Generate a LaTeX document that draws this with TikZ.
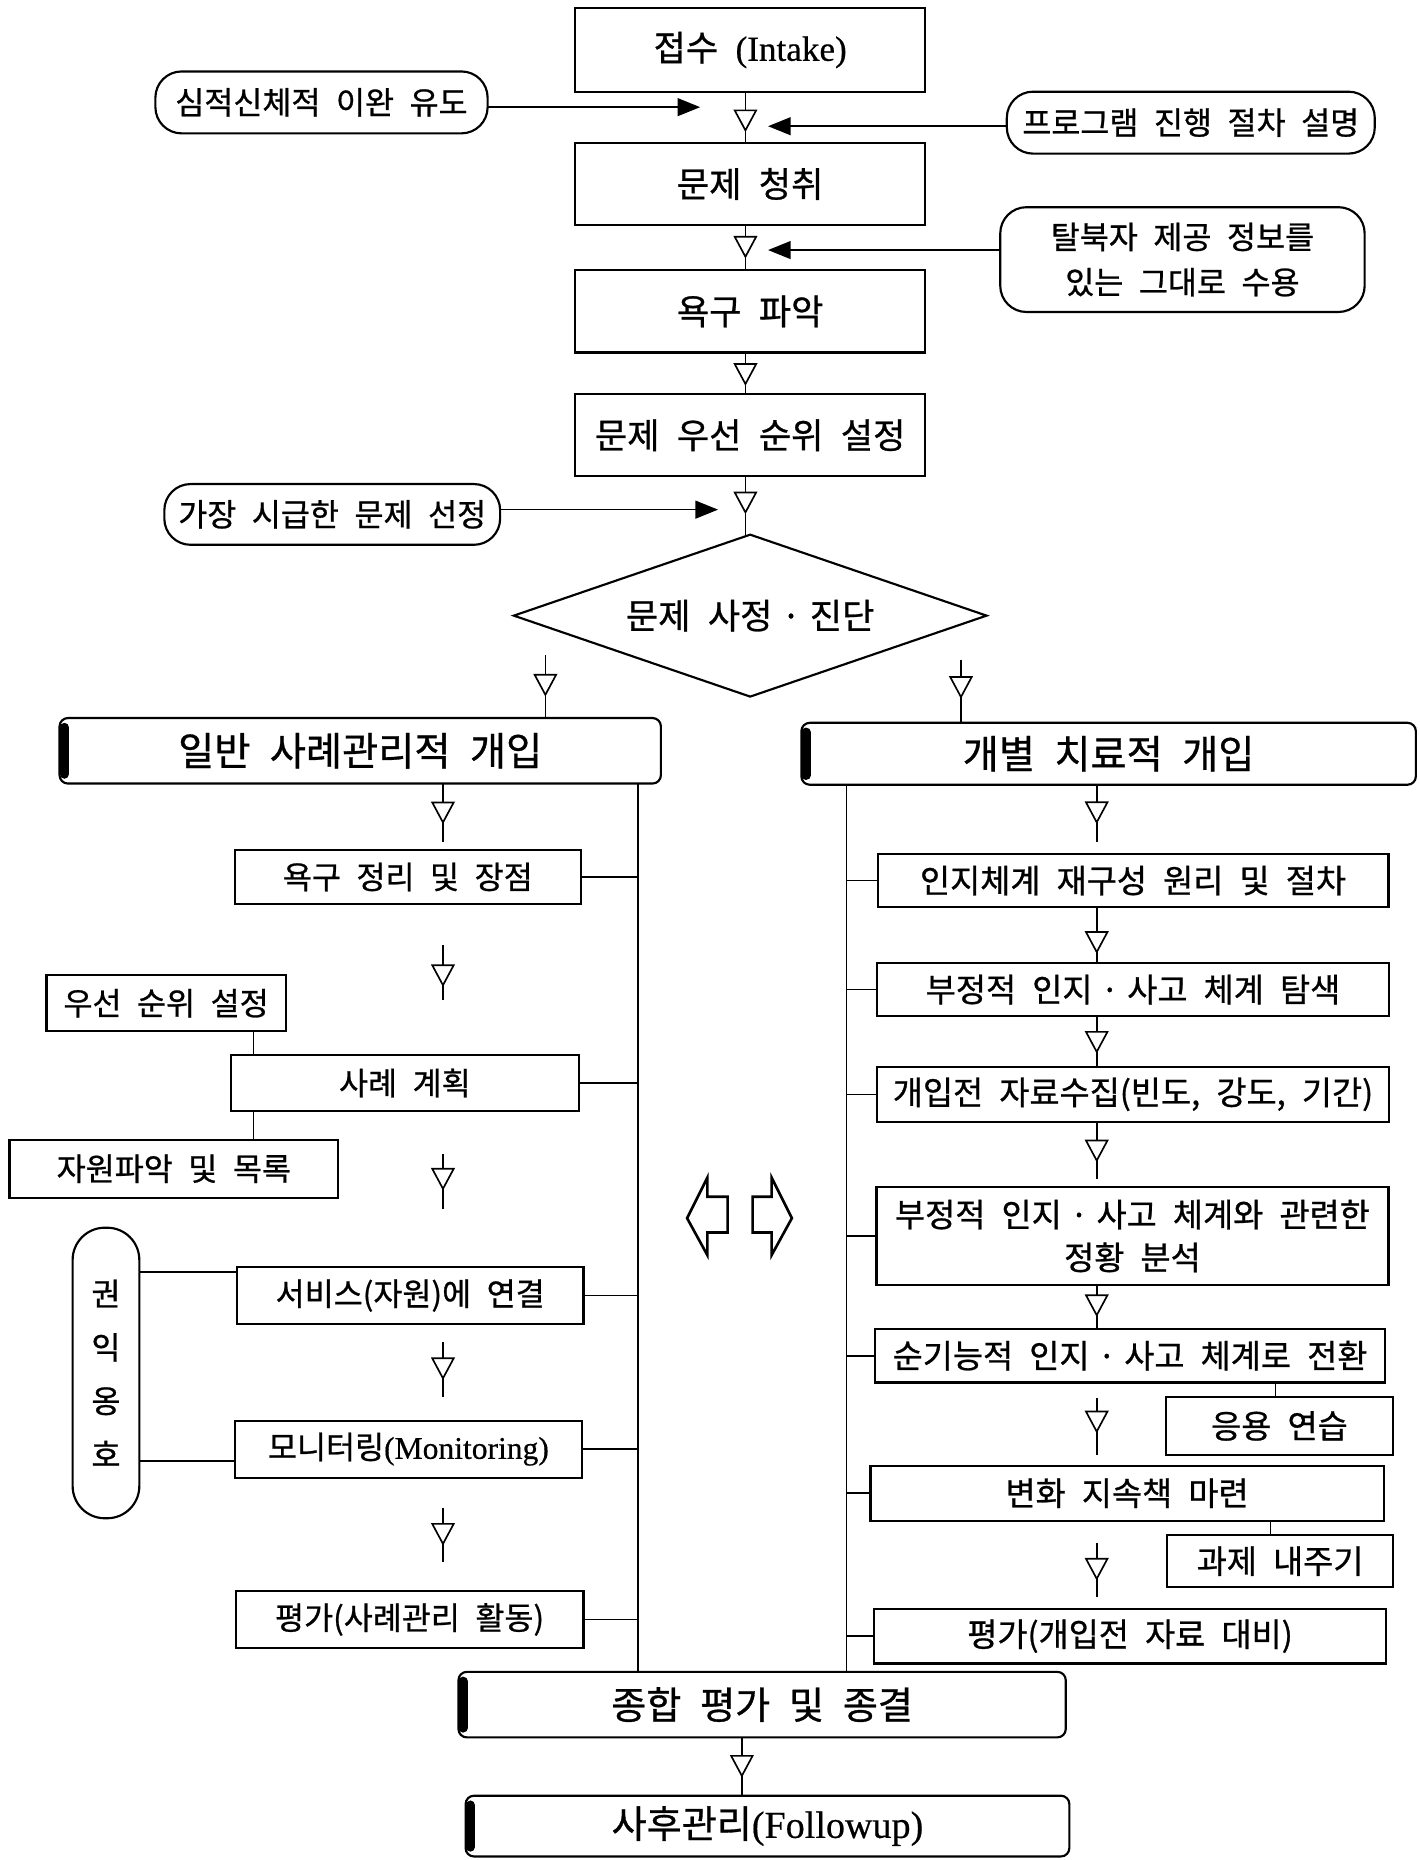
\documentclass[tikz,border=0pt]{standalone}
\usepackage{fontspec}
\setmainfont{Noto Sans CJK KR}[WordSpace=2.2, FakeBold=0.8]
\newfontfamily\latinfont{Liberation Serif}[FakeBold=0.5]
\newcommand{\midot}{\hspace{0.25em}·\hspace{0.25em}}
\usetikzlibrary{positioning, shapes.geometric, arrows.meta, decorations.markings}

\tikzset{
    stepbox/.style={draw, line width=1.8pt, inner sep=0pt, outer sep=0pt, align=center,
        font=\fontsize{26.5}{36}\selectfont},
    rstep/.style={stepbox, font=\fontsize{27.5}{36}\selectfont},
    mainbox/.style={stepbox, minimum width=294pt, minimum height=69pt,
        font=\fontsize{29.5}{32}\selectfont},
    headbox/.style={stepbox, rounded corners=7pt, font=\fontsize{33}{36}\selectfont},
    pill/.style={stepbox, rounded corners=22pt, font=\fontsize{26.5}{38}\selectfont},
    link/.style={line width=1.4pt},
    flow/.style={link, postaction={decorate}, decoration={markings,
        mark=at position #1 with {\arrow{Triangle[length=19pt, width=20pt, fill=white, line width=1.4pt]}}}},
    flow/.default=0.7,
    push/.style={link, -{Triangle[length=19pt, width=15pt]}},
}

\begin{document}
\begin{tikzpicture}[x=1pt, y=-1pt]
    \useasboundingbox (0,0) rectangle (1192,1562);

    % main column
    \node[mainbox, minimum height=70pt] (intake) at (630,42) {접수 {\latinfont(Intake)}};
    \node[mainbox, below=43pt of intake] (hear) {문제 청취};
    \node[mainbox, below=38pt of hear]   (need) {욕구 파악};
    \node[mainbox, below=35pt of need]   (prio) {문제 우선 순위 설정};
    \node[stepbox, diamond, aspect=2.9, minimum width=397pt, minimum height=136pt,
          font=\fontsize{29.5}{32}\selectfont, below=49pt of prio] (diag) {문제 사정\midot 진단};

    % side notes
    \node[pill, minimum width=279pt, minimum height=52pt] (relax)   at (270,86)   {심적신체적 이완 유도};
    \node[pill, minimum width=309pt, minimum height=52pt] (explain) at (1000,103) {프로그램 진행 절차 설명};
    \node[pill, minimum width=306pt, minimum height=88pt] (accept)  at (993,218)  {탈북자 제공 정보를\\있는 그대로 수용};
    \node[pill, minimum width=282pt, minimum height=51pt] (urgent)  at (279,432)  {가장 시급한 문제 선정};

    \coordinate (mx) at (626,0);
    \coordinate (t1) at (588,90);
    \coordinate (t2) at (645,106);
    \coordinate (t3) at (645,210);
    \coordinate (t4) at (603,428);

    \draw[flow=0.79] (intake.south -| mx) -- (hear.north -| mx);
    \draw[flow=0.74] (hear.south -| mx) -- (need.north -| mx);
    \draw[flow=0.8]  (need.south -| mx) -- (prio.north -| mx);
    \draw[flow=0.65] (prio.south -| mx) -- (diag.north -| mx);

    \draw[push] (relax.east |- t1) -- (t1);
    \draw[push] (explain.west |- t2) -- (t2);
    \draw[push] (accept.west |- t3) -- (t3);
    \draw[push] (urgent.east |- t4) -- (t4);

    % two branches
    \node[headbox, minimum width=505pt, minimum height=55pt] (gen)   at (302.5,630.5) {일반 사례관리적 개입};
    \node[headbox, minimum width=516pt, minimum height=52pt] (indiv) at (931,633)     {개별 치료적 개입};
    \coordinate (dl) at (458,550);
    \coordinate (dr) at (807,554);
    \draw[flow=0.66] (dl) -- (gen.north -| dl);
    \draw[flow=0.62] (dr) -- (indiv.north -| dr);

    % left column
    \node[stepbox, minimum width=291pt, minimum height=45pt] (lneed) at (342.5,736.5) {욕구 정리 및 장점};
    \node[stepbox, minimum width=201pt, minimum height=47pt] (lprio) at (139.5,842.5) {우선 순위 설정};
    \node[stepbox, minimum width=292pt, minimum height=47pt] (lplan) at (340,909.5)   {사례 계획};
    \node[stepbox, minimum width=276pt, minimum height=49pt] (lres)  at (146,981.5)   {자원파악 및 목록};
    \node[stepbox, minimum width=291pt, minimum height=48pt] (llink) at (344.5,1088)  {서비스(자원)에 연결};
    \node[stepbox, minimum width=292pt, minimum height=48pt] (lmon)  at (343,1217)    {모니터링{\latinfont(Monitoring)}};
    \node[stepbox, minimum width=292pt, minimum height=48pt] (leval) at (344,1360)    {평가(사례관리 활동)};
    \node[stepbox, rounded corners=27pt, minimum width=56pt, minimum height=244pt,
          font=\fontsize{26.5}{45}\selectfont] (adv) at (89,1153) {권\\익\\옹\\호};

    \coordinate (lrail) at (536,0);
    \coordinate (lx) at (372,0);
    \coordinate (sx) at (213,0);
    \coordinate (ya) at (0,1068);
    \coordinate (yb) at (0,1227);

    \draw[flow=0.61, shorten >=7pt] (gen.south -| lx) -- (lneed.north -| lx);
    \draw[flow=0.55, shorten <=35pt, shorten >=46pt] (lneed.south -| lx) -- (lplan.north -| lx);
    \draw[flow=0.51, shorten <=36pt, shorten >=49pt] (lplan.south -| lx) -- (llink.north -| lx);
    \draw[flow=0.58, shorten <=15pt, shorten >=20pt] (llink.south -| lx) -- (lmon.north -| lx);
    \draw[flow=0.6,  shorten <=25pt, shorten >=24pt] (lmon.south -| lx) -- (leval.north -| lx);

    \draw[link] (lprio.south -| sx) -- (lplan.north -| sx);
    \draw[link] (lplan.south -| sx) -- (lres.north -| sx);
    \draw[link] (adv.east |- ya) -- (llink.west |- ya);
    \draw[link] (adv.east |- yb) -- (lmon.west |- yb);

    % right column
    \node[rstep, minimum width=429pt, minimum height=45pt] (rprin) at (951.5,739.5) {인지체계 재구성 원리 및 절차};
    \node[rstep, minimum width=430pt, minimum height=44pt] (rneg)  at (951.5,831)   {부정적 인지\midot 사고 체계 탐색};
    \node[rstep, minimum width=430pt, minimum height=46pt] (rdata) at (951.5,919)   {개입전 자료수집(빈도, 강도, 기간)};
    \node[rstep, minimum width=430pt, minimum height=82pt] (rsit)  at (951,1038)    {부정적 인지\midot 사고 체계와 관련한\\정황 분석};
    \node[rstep, minimum width=428pt, minimum height=45pt] (rconv) at (949,1138.5)  {순기능적 인지\midot 사고 체계로 전환};
    \node[rstep, minimum width=191pt, minimum height=49pt] (rprac) at (1074.5,1197.5) {응용 연습};
    \node[rstep, minimum width=431pt, minimum height=46pt] (rkeep) at (946.5,1254)  {변화 지속책 마련};
    \node[rstep, minimum width=190pt, minimum height=44pt] (rtask) at (1075,1311)   {과제 내주기};
    \node[rstep, minimum width=430pt, minimum height=46pt] (reval) at (949,1374)    {평가(개입전 자료 대비)};

    \coordinate (rrail) at (711,0);
    \coordinate (rx) at (921,0);
    \coordinate (px) at (1071,0);
    \coordinate (qx) at (1067,0);

    \draw[flow=0.57, shorten >=10pt] (indiv.south -| rx) -- (rprin.north -| rx);
    \draw[flow=0.83] (rprin.south -| rx) -- (rneg.north -| rx);
    \draw[flow=0.74] (rneg.south -| rx) -- (rdata.north -| rx);
    \draw[flow=0.62, shorten >=7pt] (rdata.south -| rx) -- (rsit.north -| rx);
    \draw[flow=0.73] (rsit.south -| rx) -- (rconv.north -| rx);
    \draw[flow=0.61, shorten <=13pt, shorten >=9pt] (rconv.south -| rx) -- (rkeep.north -| rx);
    \draw[flow=0.68, shorten <=19pt, shorten >=10pt] (rkeep.south -| rx) -- (reval.north -| rx);

    \draw[link] (rconv.south -| px) -- (rprac.north -| px);
    \draw[link] (rkeep.south -| qx) -- (rtask.north -| qx);

    % both sides meet
    \node[headbox, minimum width=510pt, minimum height=55pt, font=\fontsize{32}{36}\selectfont] (final)  at (640,1431.5) {종합 평가 및 종결};
    \node[headbox, minimum width=507pt, minimum height=51pt, font=\fontsize{32}{36}\selectfont] (follow) at (644.5,1533.5) {사후관리{\latinfont(Followup)}};
    \coordinate (fx) at (623,0);
    \draw[flow=0.69] (final.south -| fx) -- (follow.north -| fx);

    \draw[link] (gen.south -| lrail) -- (final.north -| lrail);
    \foreach \n in {lneed, lplan, llink, lmon, leval}
        \draw[link] (\n.east) -- (\n.east -| lrail);
    \draw[link] (indiv.south -| rrail) -- (final.north -| rrail);
    \foreach \n in {rprin, rneg, rdata, rsit, rconv, rkeep, reval}
        \draw[link] (\n.west) -- (\n.west -| rrail);

    % heavy left edges
    \foreach \n in {gen, indiv, final, follow}
        \draw[line width=8pt, line cap=round] ([xshift=4pt, yshift=-8pt]\n.north west) -- ([xshift=4pt, yshift=8pt]\n.south west);

    % hollow arrows in the middle
    \draw[line width=2.2pt] (611,1005) -- (594,1005) -- (594,989) -- (577,1023) -- (594,1054) -- (594,1035) -- (611,1035) -- cycle;
    \draw[line width=2.2pt] (632,1005) -- (648,1005) -- (648,989) -- (665,1023) -- (648,1054) -- (648,1035) -- (632,1035) -- cycle;
\end{tikzpicture}
\end{document}
